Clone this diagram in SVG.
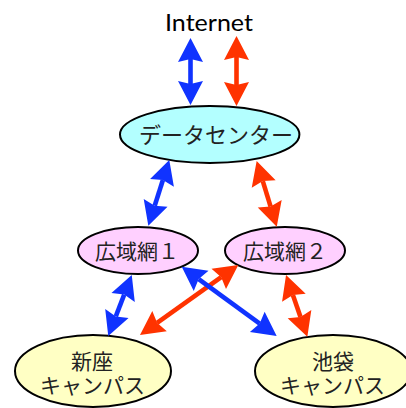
<svg xmlns="http://www.w3.org/2000/svg" width="406" height="408" viewBox="0 0 406 408">
<style>
.node{stroke:#000;stroke-width:2}
.dc{fill:#B3FFFF}
.wan{fill:#FFD0FF}
.camp{fill:#FFFFC4}
.t{font-family:"Noto Sans CJK JP","Noto Sans",sans-serif;font-size:21px;fill:#222;text-anchor:middle}
.en{font-family:Lato,"Open Sans",sans-serif;font-size:24px;fill:#000;text-anchor:middle}
.b{stroke:#1033FF;stroke-width:4.6;fill:none;marker-start:url(#hb);marker-end:url(#hb)}
.r{stroke:#FF3300;stroke-width:4.6;fill:none;marker-start:url(#hr);marker-end:url(#hr)}
</style>
<defs>
<marker id="hb" markerUnits="userSpaceOnUse" orient="auto-start-reverse" viewBox="-5 -14 28 28" refX="0" refY="0" markerWidth="28" markerHeight="28" overflow="visible">
<path d="M21,0 L-3,12.5 L0,0 L-3,-12.5 Z" fill="#1033FF"/>
</marker>
<marker id="hr" markerUnits="userSpaceOnUse" orient="auto-start-reverse" viewBox="-5 -14 28 28" refX="0" refY="0" markerWidth="28" markerHeight="28" overflow="visible">
<path d="M21,0 L-3,12.5 L0,0 L-3,-12.5 Z" fill="#FF3300"/>
</marker>
</defs>
<rect width="406" height="408" fill="#fff"/>
<g id="internet">
<text class="en" x="209" y="30.5" textLength="88" lengthAdjust="spacingAndGlyphs">Internet</text>
</g>
<g id="datacenter">
<ellipse class="node dc" cx="209.7" cy="134.5" rx="89.7" ry="28.5"/>
<text class="t" x="216" y="143" style="font-size:22px">データセンター</text>
</g>
<g id="wan1">
<ellipse class="node wan" cx="138" cy="250.5" rx="60" ry="23.5"/>
<text class="t" x="137" y="258.5">広域網１</text>
</g>
<g id="wan2">
<ellipse class="node wan" cx="285" cy="250.5" rx="60" ry="23.5"/>
<text class="t" x="285" y="258.5">広域網２</text>
</g>
<g id="niiza">
<ellipse class="node camp" cx="93" cy="371" rx="78" ry="36"/>
<text class="t"><tspan x="92" y="368.5">新座</tspan><tspan x="92.5" y="392.5">キャンパス</tspan></text>
</g>
<g id="ikebukuro">
<ellipse class="node camp" cx="333" cy="371" rx="78" ry="36"/>
<text class="t"><tspan x="333" y="368.5">池袋</tspan><tspan x="332.5" y="392.5">キャンパス</tspan></text>
</g>
<g id="connectors">
<line class="b" x1="190.5" y1="59" x2="190.5" y2="84"/>
<line class="r" x1="236.5" y1="57" x2="236.5" y2="85"/>
<line class="b" x1="162.9" y1="180" x2="154.7" y2="205.7"/>
<line class="r" x1="262.8" y1="181.1" x2="270.6" y2="206.6"/>
<line class="b" x1="124.2" y1="294.6" x2="115.8" y2="316.4"/>
<line class="r" x1="292.9" y1="294.9" x2="300.5" y2="316.9"/>
<line class="r" x1="221.2" y1="277.2" x2="157.1" y2="322.8"/>
<line class="b" x1="198.7" y1="279.1" x2="259.7" y2="323.6"/>
</g>
</svg>
